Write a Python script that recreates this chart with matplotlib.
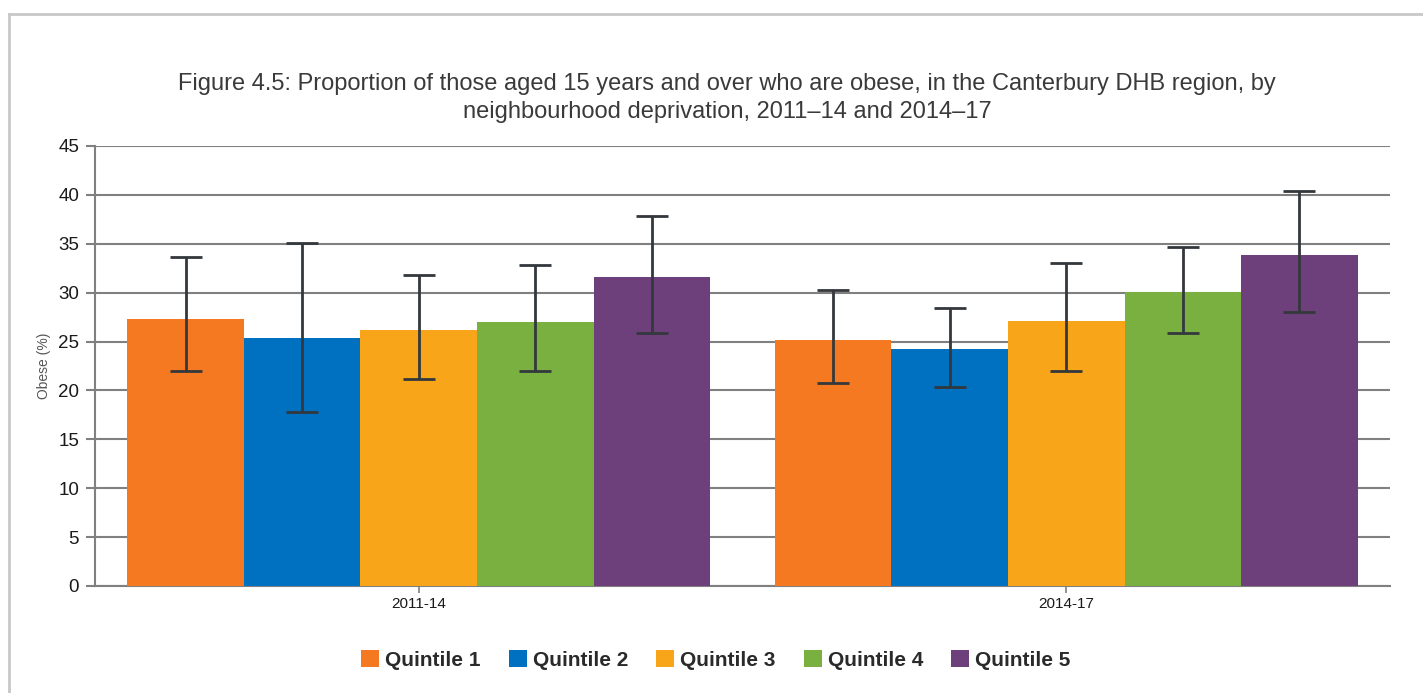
import numpy as np
import matplotlib
matplotlib.use("Agg")
import matplotlib.pyplot as plt
from matplotlib.lines import Line2D

# data
periods = ["2011-14", "2014-17"]
quintiles = ["Quintile 1", "Quintile 2", "Quintile 3", "Quintile 4", "Quintile 5"]
q1 = [27.3, 25.2]
q2 = [25.4, 24.2]
q3 = [26.2, 27.1]
q4 = [27.0, 30.1]
q5 = [31.6, 33.9]
q1_ci = [(22.0, 33.6), (20.8, 30.3)]
q2_ci = [(17.8, 35.1), (20.4, 28.4)]
q3_ci = [(21.2, 31.8), (22.0, 33.0)]
q4_ci = [(22.0, 32.8), (25.9, 34.7)]
q5_ci = [(25.9, 37.8), (28.0, 40.4)]
colours = ["#F47920", "#0070C0", "#F9A51A", "#7AB040", "#6D3F7B"]

plt.rcParams['font.family'] = ['Liberation Sans', 'DejaVu Sans']

fig = plt.figure(figsize=(14.23, 6.93), dpi=100)
ax = fig.add_axes([95/1423, 1 - 586/693, (1390 - 95)/1423, (586 - 146)/693])

x = np.arange(len(periods))
width = 0.18
series = [q1, q2, q3, q4, q5]
cis = [q1_ci, q2_ci, q3_ci, q4_ci, q5_ci]
for i, (vals, ci) in enumerate(zip(series, cis)):
    pos = x + (i - 2) * width
    lo = [v - c[0] for v, c in zip(vals, ci)]
    hi = [c[1] - v for v, c in zip(vals, ci)]
    ax.bar(pos, vals, width, color=colours[i], label=quintiles[i], zorder=2)
    ax.errorbar(pos, vals, yerr=[lo, hi], fmt='none', ecolor='#33383d',
                elinewidth=2, capsize=11.5, capthick=2, zorder=3)

ax.set_xlim(-0.5, 1.5)
ax.set_ylim(0, 45)
ax.set_yticks(range(0, 46, 5))
ax.yaxis.grid(True, color='#808080', linewidth=1.5, zorder=0)
ax.set_axisbelow(True)
for s in ['top', 'right']:
    ax.spines[s].set_visible(False)
for s in ['left', 'bottom']:
    ax.spines[s].set_color('#808080')
    ax.spines[s].set_linewidth(1.5)
    ax.spines[s].set_zorder(1)
ax.tick_params(axis='y', length=6.5, width=1.5, color='#808080', labelsize=13.5,
               labelcolor='#1a1a1a', pad=5)
ax.set_xticks(x)
ax.set_xticklabels(periods)
ax.tick_params(axis='x', length=5, width=1.2, color='#808080', labelsize=11,
               labelcolor='#1a1a1a', pad=3)
ax.set_ylabel('Obese (%)', fontsize=10, color='#555555')
ax.yaxis.set_label_coords(-0.034, 0.5)

fig.text(727/1423, 1 - 98/693,
         "Figure 4.5: Proportion of those aged 15 years and over who are obese, in the Canterbury DHB region, by\n"
         "neighbourhood deprivation, 2011\u201314 and 2014\u201317",
         ha='center', va='center', fontsize=17, color='#3a3a3a', linespacing=1.32)

leg = fig.legend(loc='center', bbox_to_anchor=(716/1423, 1 - 660/693), ncol=5,
                 frameon=False, handlelength=0.85, handleheight=0.85, handletextpad=0.3,
                 columnspacing=1.35, prop={'weight': 'bold', 'size': 15})
for t in leg.get_texts():
    t.set_color('#2a2a2a')

# light frame around the chart
fig.add_artist(Line2D([8.5/1423, 8.5/1423], [0, 1 - 14/693], color='#c8c8c8', linewidth=2))
fig.add_artist(Line2D([8.5/1423, 1], [1 - 14/693, 1 - 14/693], color='#c8c8c8', linewidth=2))

fig.savefig('out.png', dpi=100)
